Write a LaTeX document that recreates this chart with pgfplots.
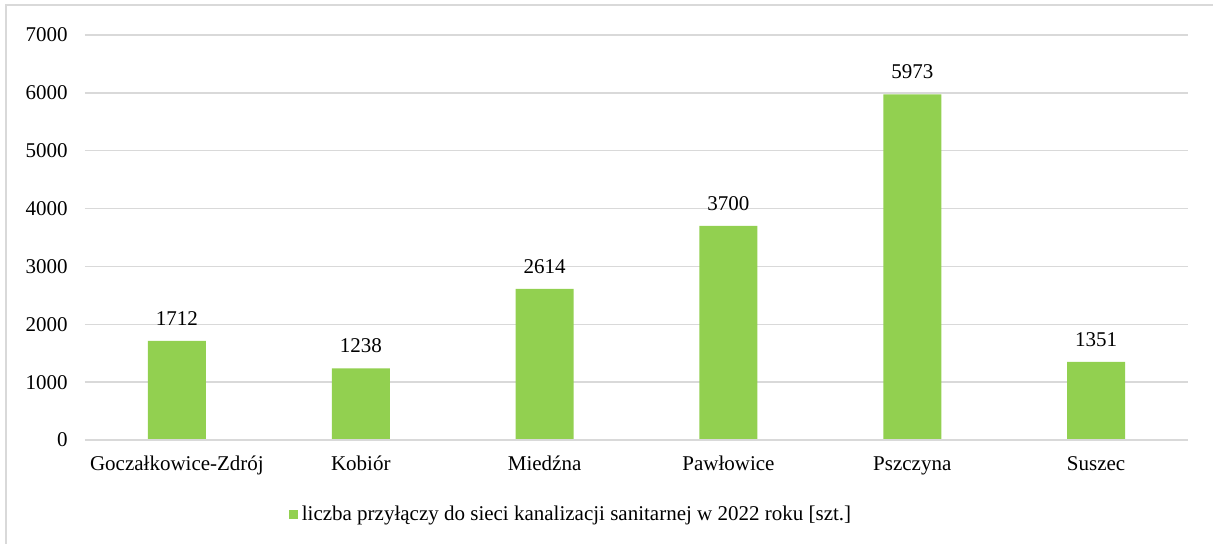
\documentclass[border=0pt]{standalone}
\usepackage{pgfplots}
\pgfplotsset{compat=1.18}
\usepackage{fontspec}
\setmainfont{Liberation Serif}
\definecolor{bargreen}{HTML}{92D050}
\definecolor{gridgray}{HTML}{D9D9D9}
\begin{document}
\rmfamily\fontsize{10.5}{12.6}\selectfont
\begin{tikzpicture}
\begin{axis}[
  scale only axis,
  width=551.5pt, height=202.5pt,
  xmin=-0.5, xmax=5.5,
  ymin=0, ymax=7000,
  ytick={0,1000,...,7000},
  xtick=data,
  xticklabels={Goczałkowice-Zdrój,Kobiór,Miedźna,Pawłowice,Pszczyna,Suszec},
  axis line style={draw=none},
  major tick length=0pt,
  ymajorgrids,
  grid style={gridgray, line width=0.75pt},
  /pgf/number format/assume math mode=true,
  /pgf/number format/set thousands separator={},
  ticklabel style={font=\rmfamily\fontsize{10.5}{12.6}\selectfont},
  yticklabel style={xshift=-5pt},
  xticklabel style={yshift=-4.5pt},
  ybar, bar width=29pt,
  nodes near coords,
  nodes near coords style={font=\rmfamily\fontsize{10.5}{12.6}\selectfont, yshift=4pt, /pgf/number format/assume math mode=true, /pgf/number format/set thousands separator={}},
  legend style={draw=none, at={(0.4415,-0.185)}, anchor=center, font=\rmfamily\fontsize{10.5}{12.6}\selectfont},
  legend image code/.code={\fill[bargreen] (0pt,-2.25pt) rectangle (4.5pt,2.25pt);},
]
\addplot[fill=bargreen, draw=none] coordinates {(0,1712) (1,1238) (2,2614) (3,3700) (4,5973) (5,1351)};
\addlegendentry{liczba przyłączy do sieci kanalizacji sanitarnej w 2022 roku [szt.]}
\draw[gridgray, line width=0.75pt] (axis cs:-0.5,0) -- (axis cs:5.5,0);
\end{axis}
\draw[gridgray, line width=0.75pt] (-39.5pt,-52pt) -- (-39.5pt,217.5pt) -- (564pt,217.5pt);
\pgfresetboundingbox
\useasboundingbox (-42.5pt,-52pt) rectangle (564pt,220pt);
\end{tikzpicture}
\end{document}
